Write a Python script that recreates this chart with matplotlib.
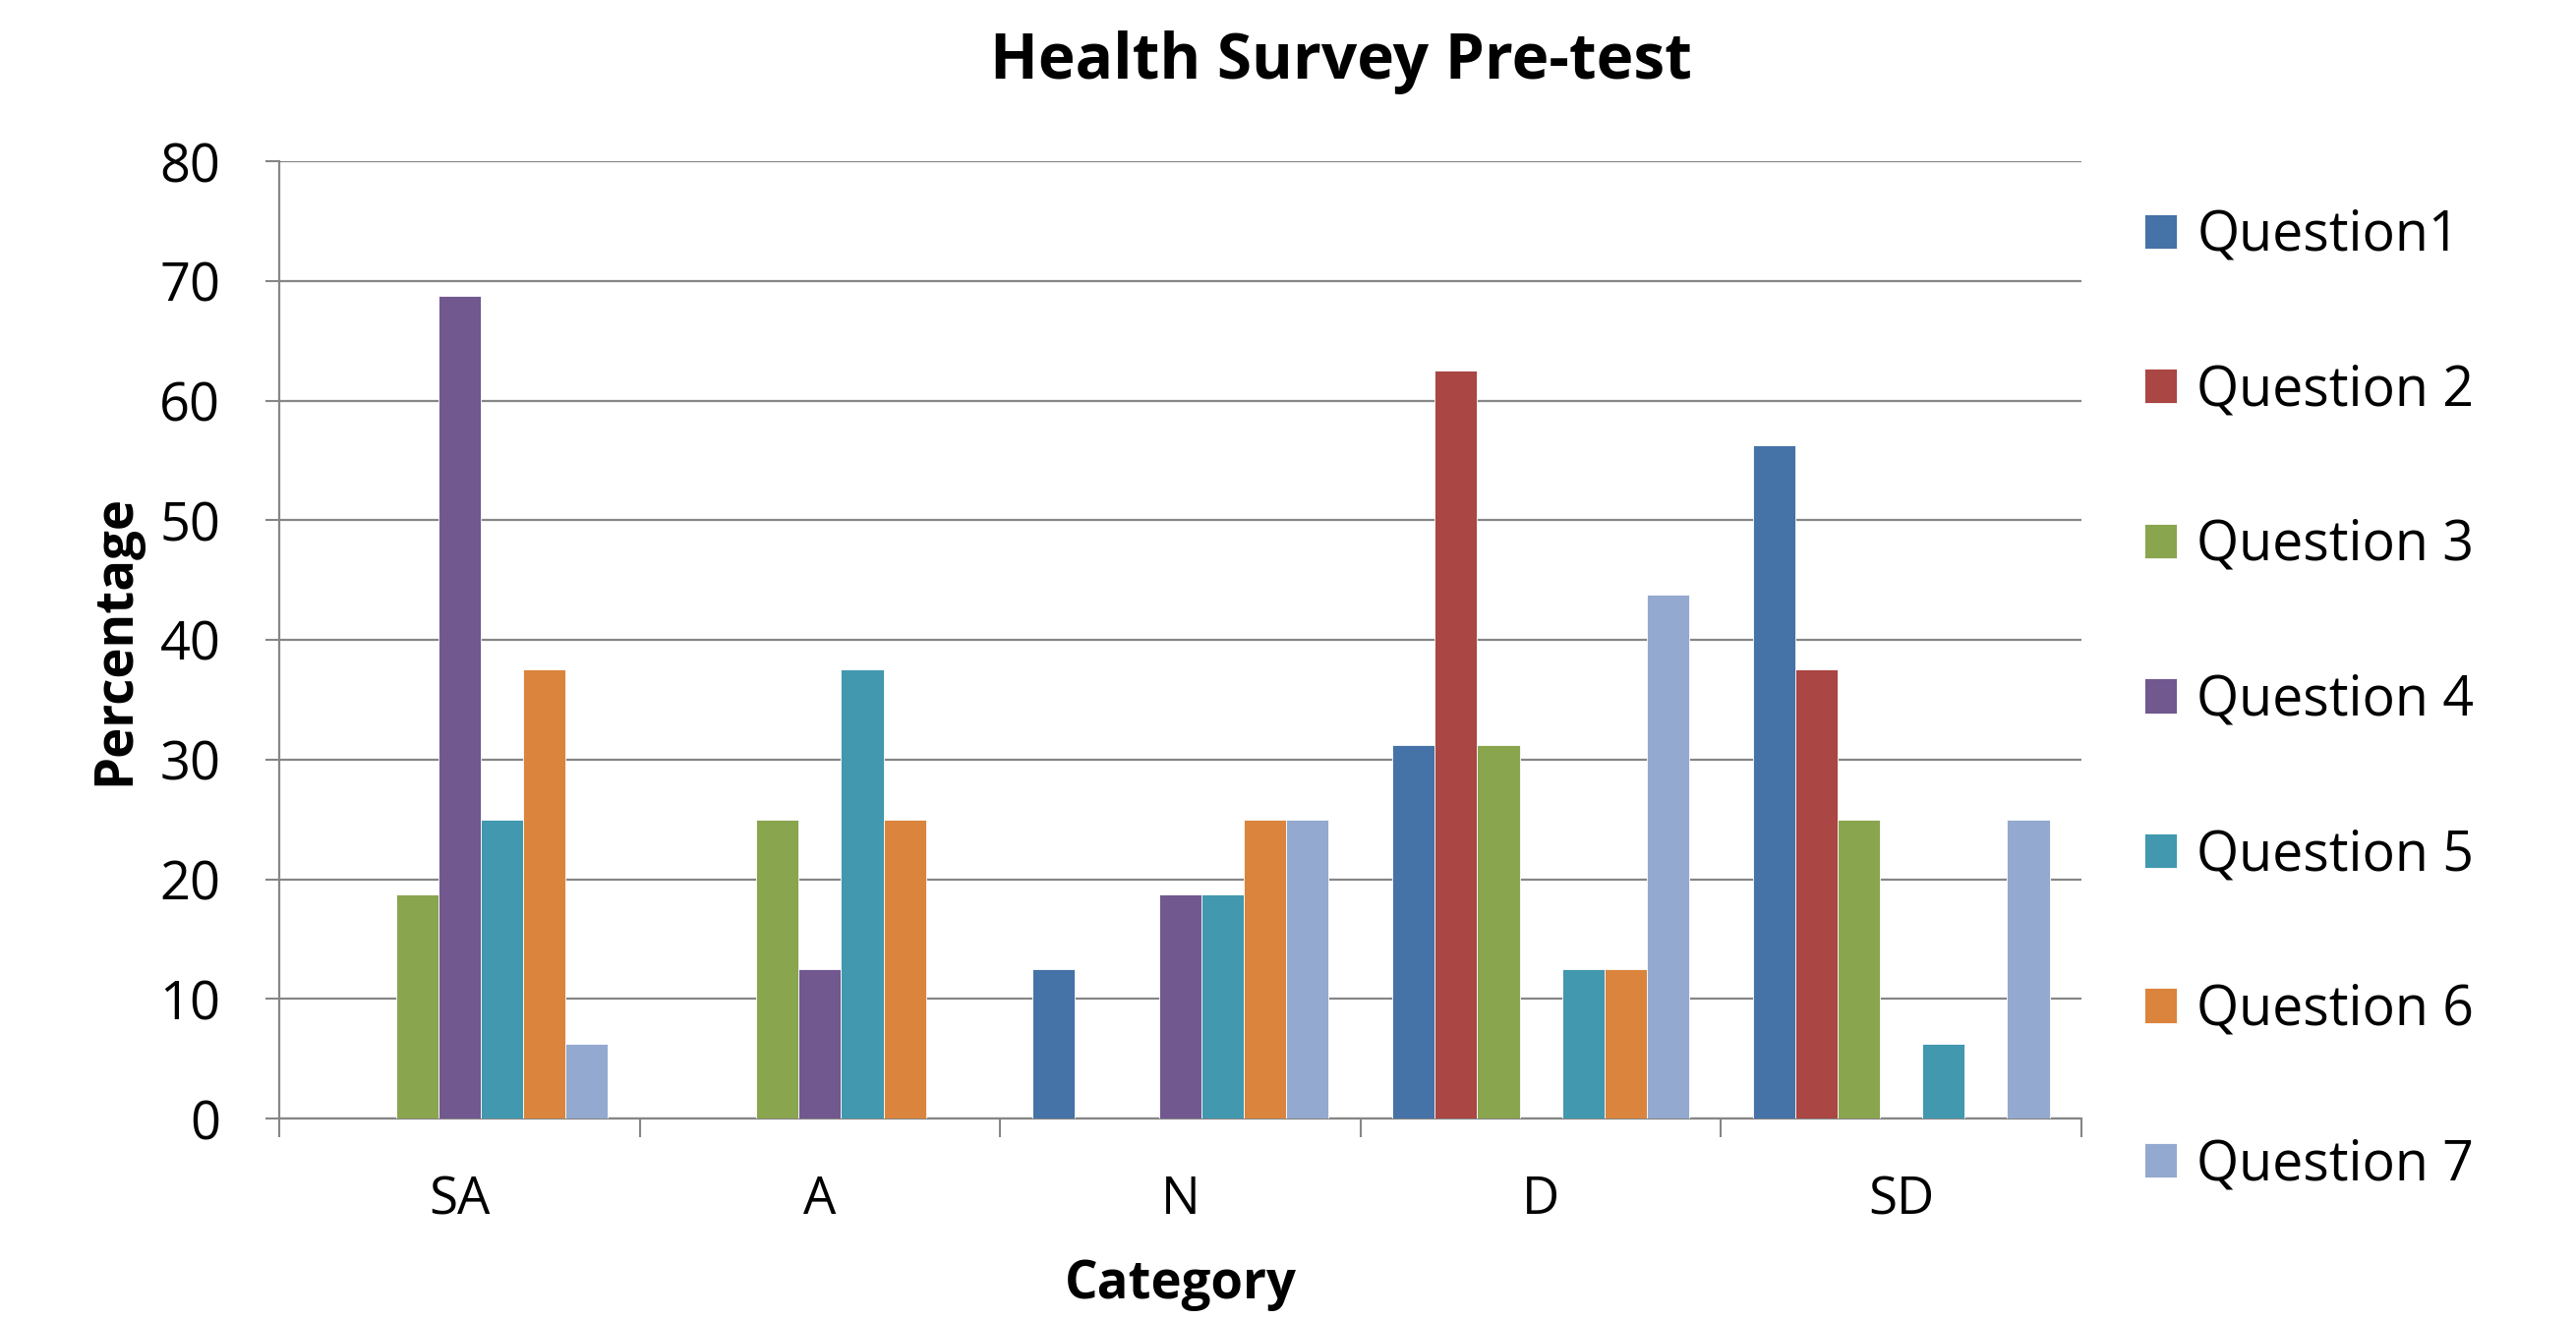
import numpy as np
from matplotlib import pyplot as plt

# data
categories = ["SA", "A", "N", "D", "SD"]
series_names = ["Question1", "Question 2", "Question 3", "Question 4",
                "Question 5", "Question 6", "Question 7"]
q1 = [0, 0, 12.5, 31.25, 56.25]
q2 = [0, 0, 0, 62.5, 37.5]
q3 = [18.75, 25, 0, 31.25, 25]
q4 = [68.75, 12.5, 18.75, 0, 0]
q5 = [25, 37.5, 18.75, 12.5, 6.25]
q6 = [37.5, 25, 25, 12.5, 0]
q7 = [6.25, 0, 25, 43.75, 25]
colors = ["#4572A7", "#AA4643", "#89A54E", "#71588F",
          "#4198AF", "#DB843D", "#93A9CF"]
y_ticks = [0, 10, 20, 30, 40, 50, 60, 70, 80]

plt.rcParams["font.family"] = ["Open Sans", "DejaVu Sans"]

# setting figure
fig = plt.figure(figsize=(26.2, 13.42), dpi=100)
ax = fig.add_axes([284 / 2620, 1 - 1138 / 1342, 1833 / 2620, 974 / 1342])

x = np.arange(len(categories))
n_series = len(series_names)
bar_w = 0.823 / n_series

for i, (vals, name, col) in enumerate(zip([q1, q2, q3, q4, q5, q6, q7],
                                          series_names, colors)):
    offset = (i - (n_series - 1) / 2) * bar_w
    ax.bar(x + offset, vals, width=bar_w, color=col, label=name,
           edgecolor="white", linewidth=0.6, zorder=3)

# setting axis
ax.set_xlim(-0.5, len(categories) - 0.5)
ax.set_ylim(0, 80)
ax.set_yticks(y_ticks)
ax.set_yticklabels([str(v) for v in y_ticks], fontsize=39)
ax.tick_params(axis="y", length=10, width=1.5, color="#868686", pad=33)

ax.set_xticks(np.arange(-0.5, len(categories)), labels=[""] * (len(categories) + 1))
ax.set_xticks(x, labels=categories, minor=True)
ax.tick_params(axis="x", which="major", length=14, width=1.5, color="#868686")
ax.tick_params(axis="x", which="minor", length=0, pad=41, labelsize=38)

ax.grid(axis="y", color="#868686", linewidth=1.6, zorder=0)
for side in ["top", "right"]:
    ax.spines[side].set_visible(False)
for side in ["left", "bottom"]:
    ax.spines[side].set_color("#868686")
    ax.spines[side].set_linewidth(1.6)

# labels
ax.set_ylabel("Percentage", fontsize=38, fontweight="bold", va="center")
ax.yaxis.set_label_coords(-0.091, 0.5)
ax.set_xlabel("Category", fontsize=38, fontweight="bold", va="center")
ax.xaxis.set_label_coords(0.5, -0.1735)

fig.text(1364 / 2620, 1 - 63 / 1342, "Health Survey Pre-test",
         fontsize=46, fontweight="bold", ha="center", va="center")

# setting legend
fig.legend(loc="center left", bbox_to_anchor=(2181 / 2620, 1 - 713 / 1342),
           frameon=False, fontsize=40, borderpad=0, borderaxespad=0,
           handlelength=0.6, handleheight=0.6, handletextpad=0.36,
           labelspacing=1.81)

plt.savefig("out.png", dpi=100)
